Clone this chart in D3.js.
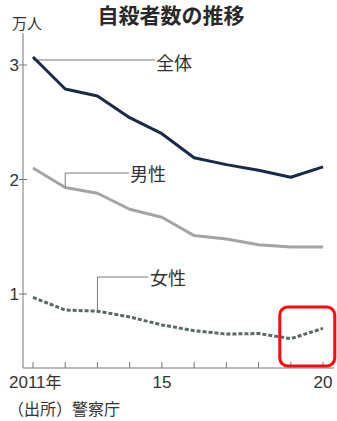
<!DOCTYPE html>
<html>
<head>
<meta charset="utf-8">
<script src="https://cdn.jsdelivr.net/npm/d3@7"></script>
<style>
  html, body { margin: 0; padding: 0; background: #fff; }
  svg { display: block; }
  .jp { font-family: "Noto Sans CJK JP", "Noto Sans", sans-serif; fill: #333; }
  .num { font-family: "Liberation Sans Narrow", "Liberation Sans", "DejaVu Sans Condensed", sans-serif; fill: #333; }
</style>
</head>
<body>
<svg id="chart" width="337" height="421"></svg>
<script>
// 自殺者数（万人）2011〜2020年
const years  = [2011, 2012, 2013, 2014, 2015, 2016, 2017, 2018, 2019, 2020];
const total  = [3.07, 2.79, 2.73, 2.54, 2.40, 2.19, 2.13, 2.08, 2.02, 2.11];
const male   = [2.10, 1.93, 1.88, 1.74, 1.67, 1.51, 1.48, 1.43, 1.41, 1.41];
const female = [0.97, 0.86, 0.85, 0.80, 0.73, 0.68, 0.65, 0.655, 0.61, 0.70];
const yTicks = [1, 2, 3];
const xTickLabels = [{year: 2011, text: "2011", suffix: "年"}, {year: 2015, text: "15"}, {year: 2020, text: "20"}];

const svg = d3.select("#chart");

const x = d3.scaleLinear().domain([2011, 2020]).range([33, 323]);
const y = d3.scaleLinear().domain([1, 3]).range([294, 65]);
const axisX = 23, axisTop = 33, axisBottom = 368, axisRight = 334;

// title
svg.append("text").attr("class", "jp")
  .attr("x", 171).attr("y", 23).attr("text-anchor", "middle")
  .attr("font-size", 21).attr("font-weight", 700).style("fill", "#2a2a2a")
  .text("自殺者数の推移");

// unit
svg.append("text").attr("class", "jp")
  .attr("x", 12).attr("y", 29).attr("font-size", 15)
  .text("万人");

// axes lines
svg.append("line").attr("x1", axisX).attr("x2", axisX).attr("y1", axisTop).attr("y2", axisBottom)
  .attr("stroke", "#777").attr("stroke-width", 1);
svg.append("line").attr("x1", axisX).attr("x2", axisRight).attr("y1", axisBottom).attr("y2", axisBottom)
  .attr("stroke", "#777").attr("stroke-width", 1);

// y ticks
const yt = svg.append("g");
yTicks.forEach(v => {
  yt.append("line").attr("x1", 19).attr("x2", 27).attr("y1", y(v)).attr("y2", y(v))
    .attr("stroke", "#777").attr("stroke-width", 1);
  yt.append("text").attr("class", "num").attr("x", 19).attr("y", y(v) + 6)
    .attr("text-anchor", "end").attr("font-size", 17).text(v);
});

// x ticks (every year, pointing up)
svg.append("g").selectAll("line").data(years).join("line")
  .attr("x1", d => x(d)).attr("x2", d => x(d))
  .attr("y1", axisBottom - 6).attr("y2", axisBottom)
  .attr("stroke", "#777").attr("stroke-width", 1);

// x labels
xTickLabels.forEach(t => {
  const tx = svg.append("text").attr("class", "num").attr("font-size", 17).attr("y", 388);
  if (t.suffix) {
    tx.attr("x", 9).attr("text-anchor", "start");
    tx.append("tspan").text(t.text);
    tx.append("tspan").attr("class", "jp").attr("font-size", 16)
      .style("font-family", "'Noto Sans CJK JP', sans-serif").text(t.suffix);
  } else {
    tx.attr("x", x(t.year)).attr("text-anchor", "middle").text(t.text);
  }
});

// source
svg.append("text").attr("class", "jp")
  .attr("x", 8).attr("y", 415).attr("font-size", 16)
  .text("（出所）警察庁");

// lines
const line = d3.line().x((d, i) => x(years[i])).y(d => y(d));

// leader lines to labels (drawn beneath series)
const leader = svg.append("g").attr("fill", "none").attr("stroke", "#7a7a7a").attr("stroke-width", 1);
leader.append("path").attr("d", `M${x(2011)},${y(total[0]) + 3}H155`);
leader.append("path").attr("d", `M${x(2012)},${y(male[1])}V173H129`);
leader.append("path").attr("d", `M${x(2013)},${y(female[2])}V277H148`);

svg.append("path").datum(male).attr("d", line)
  .attr("fill", "none").attr("stroke", "#a4a4a4").attr("stroke-width", 3)
  .attr("stroke-linejoin", "round");
svg.append("path").datum(female).attr("d", line)
  .attr("fill", "none").attr("stroke", "#5a6868").attr("stroke-width", 3)
  .attr("stroke-dasharray", "4,2");
svg.append("path").datum(total).attr("d", line)
  .attr("fill", "none").attr("stroke", "#1b2a46").attr("stroke-width", 3)
  .attr("stroke-linejoin", "round");

// series labels
svg.append("text").attr("class", "jp").attr("x", 156).attr("y", 70).attr("font-size", 18).text("全体");
svg.append("text").attr("class", "jp").attr("x", 130).attr("y", 181).attr("font-size", 18).text("男性");
svg.append("text").attr("class", "jp").attr("x", 150).attr("y", 285).attr("font-size", 18).text("女性");

// highlight box around the latest change
svg.append("rect")
  .attr("x", x(2019) - 11).attr("y", 307)
  .attr("width", 55).attr("height", 59)
  .attr("rx", 8).attr("ry", 8)
  .attr("fill", "none").attr("stroke", "#ff0a0a").attr("stroke-width", 3);
</script>
</body>
</html>
